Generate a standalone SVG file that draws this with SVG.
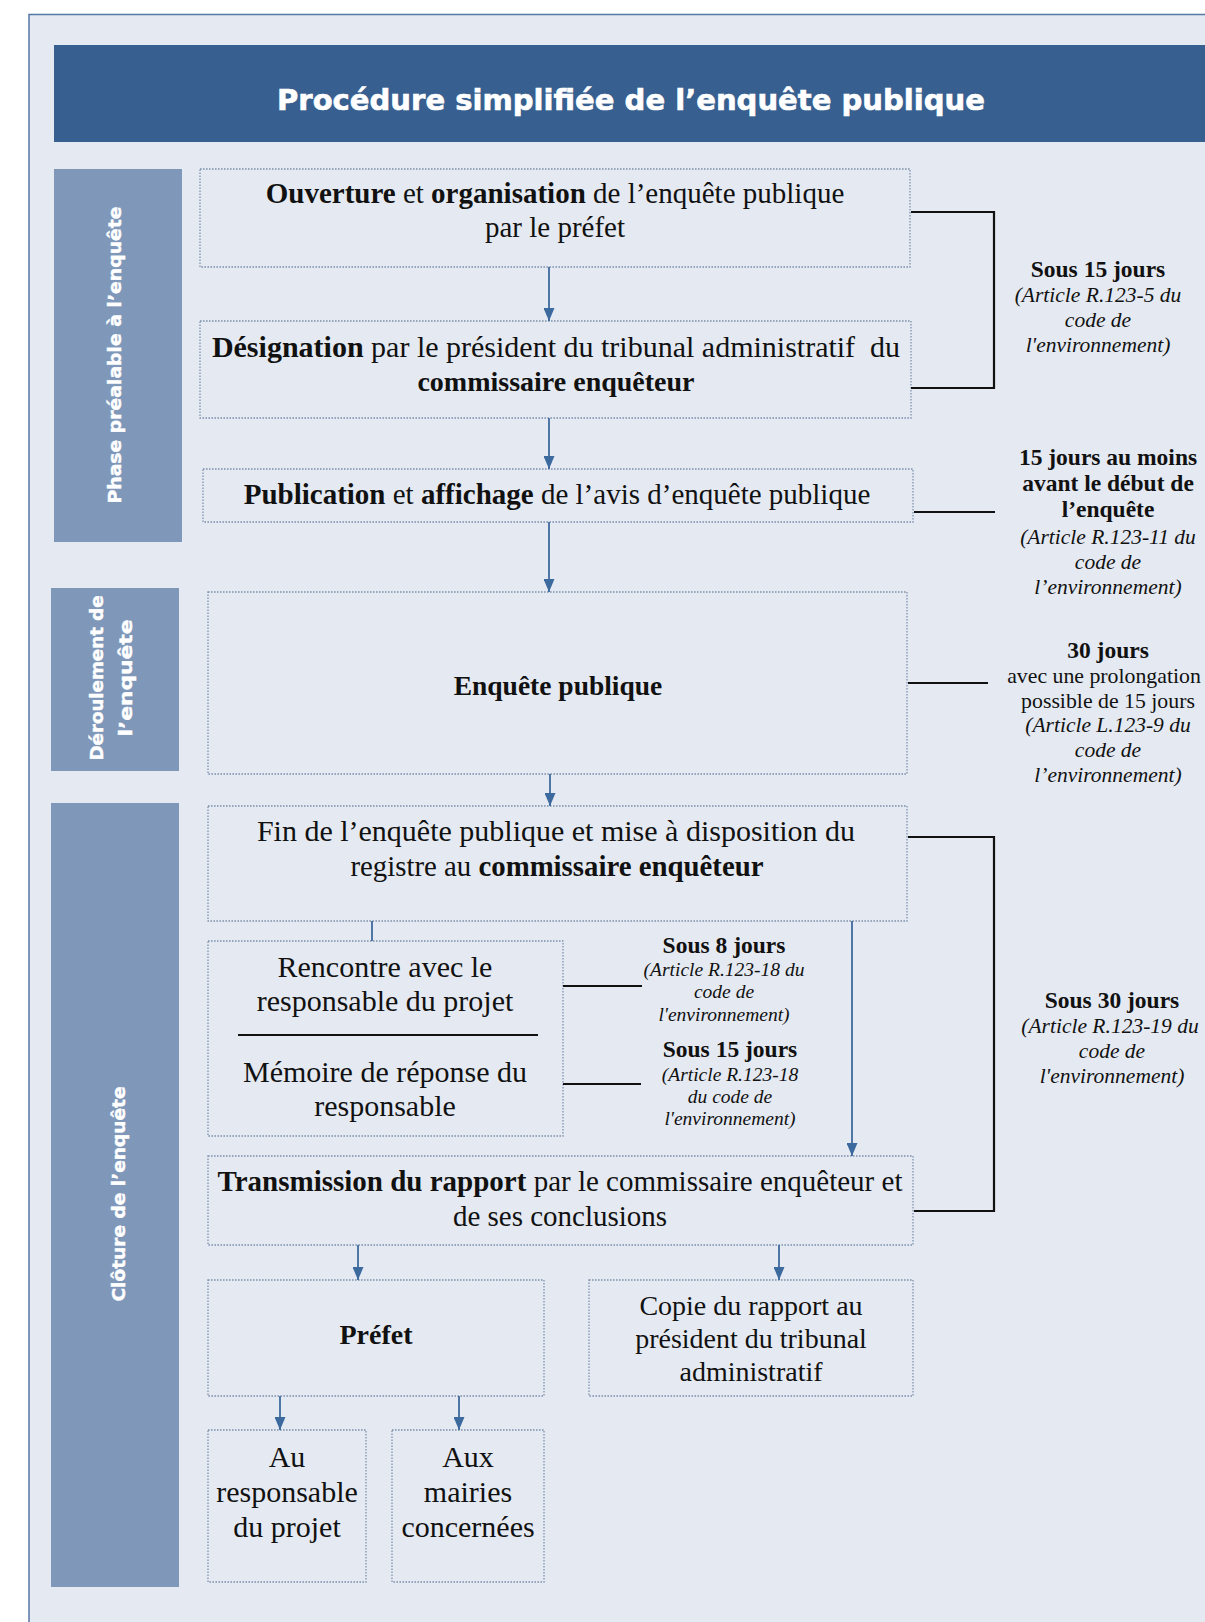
<svg xmlns="http://www.w3.org/2000/svg" width="1205" height="1622" viewBox="0 0 1205 1622">
<style>
.bg{fill:#E5EAF2;stroke:#5577A5;stroke-width:1.5}
.banner{fill:#375F90}
.phase{fill:#7F98BA}
.ptxt{font-family:"DejaVu Sans","Open Sans",sans-serif;font-weight:bold;font-size:17.5px;fill:#FFFFFF;stroke:#FFFFFF;stroke-width:0.4;text-anchor:middle}
.title{font-family:"DejaVu Sans","Open Sans",sans-serif;font-weight:bold;font-size:28px;fill:#FFFFFF;stroke:#FFFFFF;stroke-width:0.6;text-anchor:middle}
.box{fill:none;stroke:#7E91AD;stroke-width:1.3;stroke-dasharray:1.6 1.4}
.t{font-family:"Liberation Serif","Times New Roman",serif;font-size:29px;fill:#111111;text-anchor:middle}
.t30{font-family:"Liberation Serif","Times New Roman",serif;font-size:30px;fill:#111111;text-anchor:middle}
.b{font-weight:bold}
.flow{fill:none;stroke:#3D6A9E;stroke-width:1.8}
.brk{fill:none;stroke:#111111;stroke-width:2.2}
.ab{font-family:"Liberation Serif","Times New Roman",serif;font-weight:bold;font-size:23.5px;fill:#111111;text-anchor:middle}
.ar{font-family:"Liberation Serif","Times New Roman",serif;font-size:21.8px;fill:#111111;text-anchor:middle}
.ai{font-family:"Liberation Serif","Times New Roman",serif;font-style:italic;font-size:21.5px;fill:#111111;text-anchor:middle}
.sb{font-family:"Liberation Serif","Times New Roman",serif;font-weight:bold;font-size:23.5px;fill:#111111;text-anchor:middle}
.si{font-family:"Liberation Serif","Times New Roman",serif;font-style:italic;font-size:19.5px;fill:#111111;text-anchor:middle}
</style>
<defs>
<marker id="arr" viewBox="0 0 13 11" refX="13" refY="5.5" markerWidth="13" markerHeight="11" markerUnits="userSpaceOnUse" orient="auto">
<path d="M0,0 L13,5.5 L0,11 z" fill="#3D6A9E"/>
</marker>
</defs>
<rect x="0" y="0" width="1205" height="1622" fill="#FFFFFF"/>
<rect class="bg" x="29" y="14.5" width="1200" height="1620"/>

<g id="title">
<rect class="banner" x="54" y="45" width="1151" height="97"/>
<text class="title" x="631" y="110" textLength="708" lengthAdjust="spacingAndGlyphs">Procédure simplifiée de l’enquête publique</text>
</g>

<g id="phase1">
<rect class="phase" x="54" y="169" width="128" height="373"/>
<text class="ptxt" transform="translate(121,355) rotate(-90)" textLength="297" lengthAdjust="spacingAndGlyphs">Phase préalable à l’enquête</text>
</g>
<g id="phase2">
<rect class="phase" x="51" y="588" width="128" height="183"/>
<text class="ptxt" transform="translate(103,678) rotate(-90)" textLength="165" lengthAdjust="spacingAndGlyphs">Déroulement de</text>
<text class="ptxt" transform="translate(132,678) rotate(-90)" textLength="117" lengthAdjust="spacingAndGlyphs">l’enquête</text>
</g>
<g id="phase3">
<rect class="phase" x="51" y="803" width="128" height="784"/>
<text class="ptxt" transform="translate(125,1194) rotate(-90)" textLength="215" lengthAdjust="spacingAndGlyphs">Clôture de l’enquête</text>
</g>

<g id="n1">
<rect class="box" x="200" y="169" width="710" height="98"/>
<text class="t" x="555" y="203"><tspan class="b">Ouverture</tspan> et <tspan class="b">organisation</tspan> de l’enquête publique</text>
<text class="t" x="555" y="237">par le préfet</text>
</g>
<g id="n2">
<rect class="box" x="200" y="321" width="711" height="97"/>
<text class="t" x="556" y="357" xml:space="preserve" style="font-size:30px"><tspan class="b">Désignation</tspan> par le président du tribunal administratif  du</text>
<text class="t b" x="556" y="391" style="font-size:28px">commissaire enquêteur</text>
</g>
<g id="n3">
<rect class="box" x="203" y="469" width="710" height="53"/>
<text class="t" x="557" y="504"><tspan class="b">Publication</tspan> et <tspan class="b">affichage</tspan> de l’avis d’enquête publique</text>
</g>
<g id="n4">
<rect class="box" x="208" y="592" width="699" height="182"/>
<text class="t b" x="558" y="695" style="font-size:27.5px">Enquête publique</text>
</g>
<g id="n5">
<rect class="box" x="208" y="806" width="699" height="115"/>
<text class="t30" x="556" y="841">Fin de l’enquête publique et mise à disposition du</text>
<text class="t30" x="557" y="876" textLength="413" lengthAdjust="spacingAndGlyphs">registre au <tspan class="b">commissaire enquêteur</tspan></text>
</g>
<g id="n6">
<rect class="box" x="208" y="941" width="355" height="195"/>
<text class="t30" x="385" y="977">Rencontre avec le</text>
<text class="t30" x="385" y="1011">responsable du projet</text>
<line x1="238" y1="1035" x2="538" y2="1035" stroke="#111111" stroke-width="1.8"/>
<text class="t30" x="385" y="1082">Mémoire de réponse du</text>
<text class="t30" x="385" y="1116">responsable</text>
</g>
<g id="n7">
<rect class="box" x="208" y="1156" width="705" height="89"/>
<text class="t" x="560" y="1191"><tspan class="b">Transmission du rapport</tspan> par le commissaire enquêteur et</text>
<text class="t" x="560" y="1226">de ses conclusions</text>
</g>
<g id="n8">
<rect class="box" x="208" y="1280" width="336" height="116"/>
<text class="t b" x="376" y="1344" style="font-size:28px">Préfet</text>
</g>
<g id="n9">
<rect class="box" x="589" y="1280" width="324" height="116"/>
<text class="t" x="751" y="1315" style="font-size:28px">Copie du rapport au</text>
<text class="t" x="751" y="1348" style="font-size:28px">président du tribunal</text>
<text class="t" x="751" y="1381" style="font-size:28px">administratif</text>
</g>
<g id="n10">
<rect class="box" x="208" y="1430" width="158" height="152"/>
<text class="t30" x="287" y="1467">Au</text>
<text class="t30" x="287" y="1502">responsable</text>
<text class="t30" x="287" y="1537">du projet</text>
</g>
<g id="n11">
<rect class="box" x="392" y="1430" width="152" height="152"/>
<text class="t30" x="468" y="1467">Aux</text>
<text class="t30" x="468" y="1502">mairies</text>
<text class="t30" x="468" y="1537">concernées</text>
</g>

<g id="connectors">
<line class="flow" x1="549" y1="267" x2="549" y2="321" marker-end="url(#arr)"/>
<line class="flow" x1="549" y1="418" x2="549" y2="469" marker-end="url(#arr)"/>
<line class="flow" x1="549" y1="522" x2="549" y2="592" marker-end="url(#arr)"/>
<line class="flow" x1="550" y1="774" x2="550" y2="806" marker-end="url(#arr)"/>
<line class="flow" x1="372" y1="921" x2="372" y2="941"/>
<line class="flow" x1="852" y1="921" x2="852" y2="1156" marker-end="url(#arr)"/>
<line class="flow" x1="358" y1="1245" x2="358" y2="1280" marker-end="url(#arr)"/>
<line class="flow" x1="779" y1="1245" x2="779" y2="1280" marker-end="url(#arr)"/>
<line class="flow" x1="280" y1="1396" x2="280" y2="1430" marker-end="url(#arr)"/>
<line class="flow" x1="459" y1="1396" x2="459" y2="1430" marker-end="url(#arr)"/>
<polyline class="brk" points="911,212 994,212 994,388 911,388"/>
<line class="brk" x1="914" y1="512" x2="995" y2="512"/>
<line class="brk" x1="908" y1="683" x2="988" y2="683"/>
<polyline class="brk" points="908,837 994,837 994,1211 914,1211"/>
<line class="brk" x1="563" y1="986" x2="642" y2="986"/>
<line class="brk" x1="563" y1="1084" x2="641" y2="1084"/>
</g>

<g id="labels">
<text class="ab" x="1098" y="277">Sous 15 jours</text>
<text class="ai" x="1098" y="302">(Article R.123-5 du</text>
<text class="ai" x="1098" y="327">code de</text>
<text class="ai" x="1098" y="352">l'environnement)</text>

<text class="ab" x="1108" y="465">15 jours au moins</text>
<text class="ab" x="1108" y="491">avant le début de</text>
<text class="ab" x="1108" y="517">l’enquête</text>
<text class="ai" x="1108" y="544">(Article R.123-11 du</text>
<text class="ai" x="1108" y="569">code de</text>
<text class="ai" x="1108" y="594">l’environnement)</text>

<text class="ab" x="1108" y="658">30 jours</text>
<text class="ar" x="1104" y="683">avec une prolongation</text>
<text class="ar" x="1108" y="708">possible de 15 jours</text>
<text class="ai" x="1108" y="732">(Article L.123-9 du</text>
<text class="ai" x="1108" y="757">code de</text>
<text class="ai" x="1108" y="782">l’environnement)</text>

<text class="ab" x="1112" y="1008">Sous 30 jours</text>
<text class="ai" x="1110" y="1033">(Article R.123-19 du</text>
<text class="ai" x="1112" y="1058">code de</text>
<text class="ai" x="1112" y="1083">l'environnement)</text>

<text class="sb" x="724" y="953">Sous 8 jours</text>
<text class="si" x="724" y="976">(Article R.123-18 du</text>
<text class="si" x="724" y="998">code de</text>
<text class="si" x="724" y="1021">l'environnement)</text>

<text class="sb" x="730" y="1057">Sous 15 jours</text>
<text class="si" x="730" y="1081">(Article R.123-18</text>
<text class="si" x="730" y="1103">du code de</text>
<text class="si" x="730" y="1125">l'environnement)</text>
</g>
</svg>
